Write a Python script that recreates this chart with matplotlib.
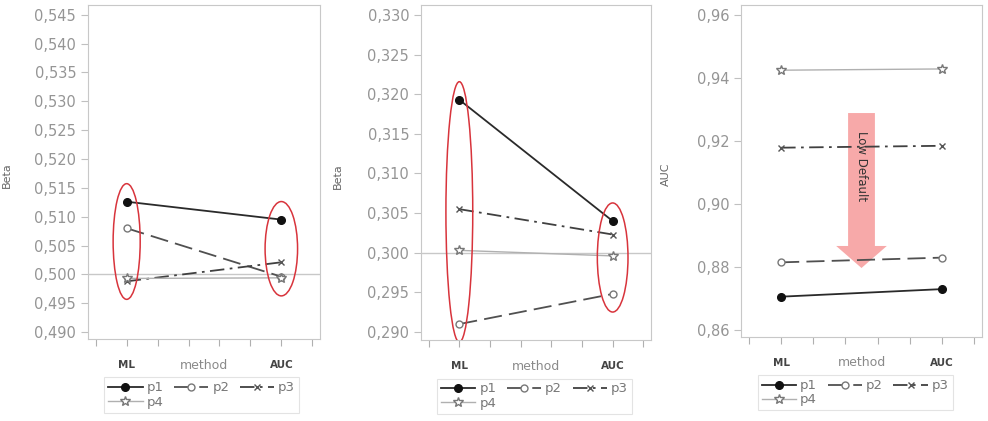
import matplotlib
matplotlib.use("Agg")
import matplotlib.pyplot as plt
from matplotlib.patches import Ellipse, FancyArrow
from matplotlib.ticker import FuncFormatter

# data (x: 0 = ML, 1 = AUC)
methods = ["ML", "AUC"]
series = ["p1", "p2", "p3", "p4"]

beta_a = {"p1": [0.5126, 0.5095], "p2": [0.5080, 0.4996],
          "p3": [0.4988, 0.5021], "p4": [0.4993, 0.4994]}
beta_b = {"p1": [0.3193, 0.3040], "p2": [0.2910, 0.2948],
          "p3": [0.3055, 0.3023], "p4": [0.3003, 0.2996]}
auc_c = {"p1": [0.8706, 0.8730], "p2": [0.8815, 0.8830],
         "p3": [0.9179, 0.9185], "p4": [0.9425, 0.9429]}

yticks_a = [0.490, 0.495, 0.500, 0.505, 0.510, 0.515, 0.520, 0.525, 0.530, 0.535, 0.540, 0.545]
yticks_b = [0.290, 0.295, 0.300, 0.305, 0.310, 0.315, 0.320, 0.325, 0.330]
yticks_c = [0.86, 0.88, 0.90, 0.92, 0.94, 0.96]

styles = {
    "p1": dict(color="#2a2a2a", ls="-", lw=1.3, marker="o", ms=5.5, mfc="#111111", mec="#111111"),
    "p2": dict(color="#505050", ls=(0, (10, 4)), lw=1.3, marker="o", ms=5, mfc="white", mec="#777777"),
    "p3": dict(color="#404040", ls=(0, (8, 3, 1.5, 3)), lw=1.3, marker="x", ms=5, mec="#555555"),
    "p4": dict(color="#b0b0b0", ls="-", lw=1.0, marker="*", ms=7, mfc="white", mec="#777777"),
}

fig = plt.figure(figsize=(9.88, 4.21), dpi=100)
W, H = 988, 421


def make_axes(l, r, t, b):
    return fig.add_axes([l / W, 1 - b / H, (r - l) / W, (b - t) / H])


def comma(v, nd):
    return f"{v:.{nd}f}".replace(".", ",")


def setup(ax, data, yticks, ylim, nd, ylabel, ylab_x, ref=None):
    lines = {}
    for s in series:
        lines[s], = ax.plot([0, 1], data[s], label=s, **styles[s])
    if ref is not None:
        ax.axhline(ref, color="#c8c8c8", lw=1, zorder=0)
    ax.set_xlim(-0.25, 1.25)
    ax.set_ylim(*ylim)
    ax.set_yticks(yticks)
    ax.yaxis.set_major_formatter(FuncFormatter(lambda v, p: comma(v, nd)))
    ax.set_xticks([-0.2, 0, 0.2, 0.4, 0.6, 0.8, 1.0, 1.2])
    ax.set_xticklabels([])
    ax.tick_params(axis="y", colors="#c0c0c0", labelcolor="#959595", labelsize=10.5, length=5)
    ax.tick_params(axis="x", colors="#b0b0b0", length=5)
    for sp in ax.spines.values():
        sp.set_color("#c8c8c8")
    ax.set_ylabel(ylabel, fontsize=8, color="#666666")
    ax.yaxis.set_label_coords(ylab_x, 0.49)
    tr = ax.get_xaxis_transform()
    for i, m in enumerate(methods):
        ax.text(i, -0.078, m, transform=tr, ha="center", va="center",
                fontsize=7.5, fontweight="bold", color="#444444")
    ax.text(0.5, -0.078, "method", transform=tr, ha="center", va="center",
            fontsize=9, color="#8a8a8a")
    # row-wise order: p1 p2 p3 / p4
    order = ["p1", "p4", "p2", "p3"]
    leg = ax.legend([lines[s] for s in order], order, loc="upper left",
                    bbox_to_anchor=(0.07, -0.115), ncol=3,
                    fontsize=9.5, frameon=True, handlelength=2.6, handletextpad=0.3,
                    columnspacing=0.8, labelspacing=0.1, borderpad=0.3,
                    borderaxespad=0, fancybox=False)
    leg.get_frame().set_edgecolor("#dddddd")
    leg.get_frame().set_linewidth(0.8)
    for t in leg.get_texts():
        t.set_color("#777777")


def circle(ax, xi, data, width):
    vals = [data[s][xi] for s in series]
    lo, hi = min(vals), max(vals)
    y0, y1 = ax.get_ylim()
    pad = 0.108 * (y1 - y0)
    ax.add_patch(Ellipse((xi, (lo + hi) / 2), width, hi - lo + pad,
                         fill=False, edgecolor="#d8343c", lw=1.1, zorder=5))


ax1 = make_axes(88, 320, 5, 339)
setup(ax1, beta_a, yticks_a, (0.4888, 0.5467), 3, "Beta", -0.33, ref=0.5)
circle(ax1, 0, beta_a, 0.175)
circle(ax1, 1, beta_a, 0.21)

ax2 = make_axes(421, 651, 5, 340)
setup(ax2, beta_b, yticks_b, (0.28899, 0.33126), 3, "Beta", -0.34, ref=0.3)
circle(ax2, 0, beta_b, 0.175)
circle(ax2, 1, beta_b, 0.20)

ax3 = make_axes(741, 982, 5, 337)
setup(ax3, auc_c, yticks_c, (0.8578, 0.9632), 2, "AUC", -0.29)
ax3.add_patch(FancyArrow(0.5, 0.9289, 0, 0.8797 - 0.9289, width=0.167,
                         head_width=0.315, head_length=0.007,
                         length_includes_head=True, color="#f7a0a0",
                         alpha=0.9, lw=0, zorder=1))
ax3.text(0.5, 0.912, "Low Default", rotation=270, ha="center", va="center",
         fontsize=8.5, color="#333333", zorder=6)

fig.savefig("out.png", dpi=100)
